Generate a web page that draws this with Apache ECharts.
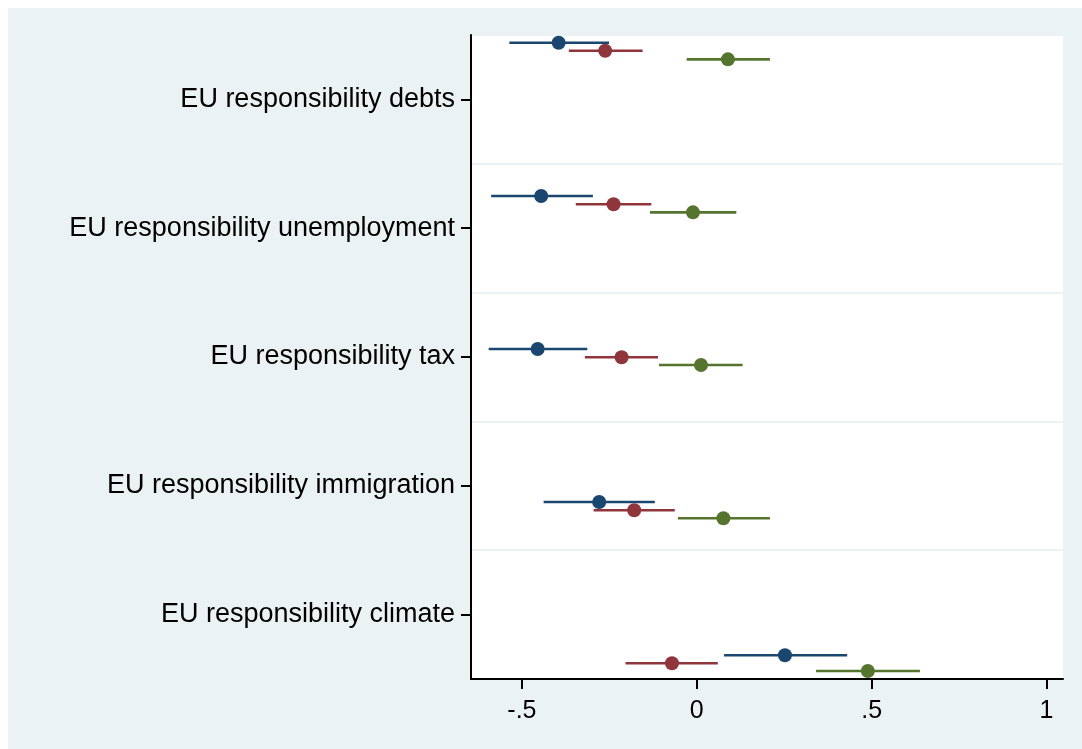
<!DOCTYPE html>
<html>
<head>
<meta charset="utf-8">
<script src="https://cdn.jsdelivr.net/npm/echarts@6/dist/echarts.min.js"></script>
<style>
  body { margin: 8px 0 0 8px; background: #fff; }
  #main { width: 1074px; height: 741px; }
</style>
</head>
<body>
<div id="main"></div>
<script>
// categories, top to bottom
var categories = ['EU responsibility debts', 'EU responsibility unemployment',
    'EU responsibility tax', 'EU responsibility immigration', 'EU responsibility climate'];
var xTicks = [-0.5, 0, 0.5, 1];
var xTickLabels = ['-.5', '0', '.5', '1'];

// model 1 (blue)
var blueCoef = [-0.395, -0.445, -0.455, -0.279, 0.252];
var blueLow  = [-0.536, -0.588, -0.595, -0.438, 0.078];
var blueHigh = [-0.251, -0.297, -0.313, -0.120, 0.430];
var blueY    = [0.560, 1.750, 2.938, 4.126, 5.316];

// model 2 (red)
var redCoef = [-0.262, -0.238, -0.215, -0.179, -0.071];
var redLow  = [-0.366, -0.346, -0.320, -0.295, -0.204];
var redHigh = [-0.155, -0.130, -0.111, -0.063, 0.060];
var redY    = [0.622, 1.814, 3.002, 4.190, 5.378];

// model 3 (green)
var greenCoef = [0.089, -0.011, 0.012, 0.076, 0.489];
var greenLow  = [-0.029, -0.134, -0.108, -0.054, 0.341];
var greenHigh = [0.209, 0.113, 0.131, 0.209, 0.638];
var greenY    = [0.689, 1.877, 3.062, 4.252, 5.438];

function ciSeries(name, low, high, ys, color) {
    var data = [];
    for (var i = 0; i < low.length; i++) data.push([low[i], high[i], ys[i]]);
    return {
        name: name,
        type: 'custom',
        yAxisIndex: 1,
        clip: false,
        renderItem: function (params, api) {
            var a = api.coord([api.value(0), api.value(2)]);
            var b = api.coord([api.value(1), api.value(2)]);
            return {
                type: 'line',
                shape: { x1: a[0], y1: a[1], x2: b[0], y2: b[1] },
                style: { stroke: color, lineWidth: 2.6 }
            };
        },
        encode: { x: [0, 1], y: 2 },
        data: data,
        z: 2
    };
}

function pointSeries(name, coef, ys, color) {
    var data = [];
    for (var i = 0; i < coef.length; i++) data.push([coef[i], ys[i]]);
    return {
        name: name,
        type: 'scatter',
        yAxisIndex: 1,
        clip: false,
        symbolSize: 14,
        itemStyle: { color: color, opacity: 1 },
        data: data,
        z: 3
    };
}

var myChart = echarts.init(document.getElementById('main'));
var option = {
    backgroundColor: '#eaf2f3',
    animation: false,
    textStyle: { fontFamily: 'Liberation Sans, Arial, sans-serif' },
    grid: { left: 463, top: 27, right: 19, bottom: 70, show: true,
        backgroundColor: '#ffffff', borderWidth: 0 },
    xAxis: {
        type: 'value',
        min: -0.6456,
        max: 1.047,
        axisLine: { show: true, onZero: false, lineStyle: { color: '#000', width: 2 } },
        axisTick: { show: true, length: 10, lineStyle: { color: '#000', width: 2 },
            customValues: xTicks },
        axisLabel: {
            color: '#000', fontSize: 25, margin: 20,
            customValues: xTicks,
            formatter: function (v) {
                var i = xTicks.indexOf(v);
                return i >= 0 ? xTickLabels[i] : '';
            }
        },
        splitLine: { show: false }
    },
    yAxis: [
        {
            type: 'category',
            data: categories,
            inverse: true,
            boundaryGap: true,
            axisLine: { show: true, onZero: false, lineStyle: { color: '#000', width: 2 } },
            axisTick: { show: true, alignWithLabel: true, length: 10,
                lineStyle: { color: '#000', width: 2 } },
            axisLabel: { color: '#000', fontSize: 27, margin: 16, padding: [3, 0, 0, 0] },
            splitLine: { show: true, lineStyle: { color: '#eaf2f3', width: 2 } }
        },
        {
            type: 'value',
            inverse: true,
            min: 0.5,
            max: 5.5,
            show: false,
            splitLine: { show: false }
        }
    ],
    series: [
        ciSeries('Model 1 CI', blueLow, blueHigh, blueY, '#1a476f'),
        ciSeries('Model 2 CI', redLow, redHigh, redY, '#90353b'),
        ciSeries('Model 3 CI', greenLow, greenHigh, greenY, '#55752f'),
        pointSeries('Model 1', blueCoef, blueY, '#1a476f'),
        pointSeries('Model 2', redCoef, redY, '#90353b'),
        pointSeries('Model 3', greenCoef, greenY, '#55752f')
    ]
};
myChart.setOption(option, true);
</script>
</body>
</html>
